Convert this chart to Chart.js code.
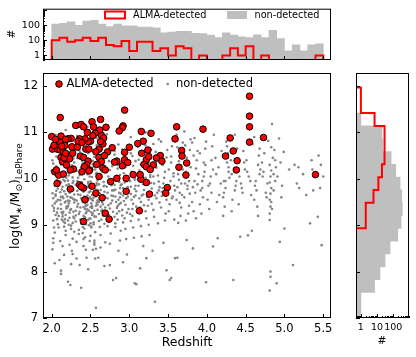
<!DOCTYPE html>
<html>
<head>
<meta charset="utf-8">
<script src="https://cdn.jsdelivr.net/npm/chart.js@4.4.0/dist/chart.umd.min.js"></script>
<style>
  html, body { margin: 0; padding: 0; background: #fff; }
  #wrap { position: relative; width: 416px; height: 357px; }
  #wrap canvas { position: absolute; left: 0; top: 0; }
</style>
</head>
<body>
<div id="wrap">
  <canvas id="topHist" width="416" height="357"></canvas>
  <canvas id="mainScatter" width="416" height="357"></canvas>
  <canvas id="rightHist" width="416" height="357"></canvas>
</div>
<script>
// ---- data ----
const zTicks = [2.0, 2.5, 3.0, 3.5, 4.0, 4.5, 5.0, 5.5];
const massTicks = [7, 8, 9, 10, 11, 12];
const countTicks = [1, 10, 100];

// redshift histogram (top panel), bins of 0.1
const zBinEdges = [2.0, 2.1, 2.2, 2.3, 2.4, 2.5, 2.6, 2.7, 2.8, 2.9, 3.0, 3.1, 3.2, 3.3, 3.4, 3.5, 3.6, 3.7,
    3.8, 3.9, 4.0, 4.1, 4.2, 4.3, 4.4, 4.5, 4.6, 4.7, 4.8, 4.9, 5.0, 5.1, 5.2, 5.3, 5.4, 5.5];
const zCountsNonDet = [120, 135, 170, 100, 190, 210, 120, 82, 120, 90, 90, 75, 75, 68, 32, 35, 40, 40,
    29, 28, 22, 15, 31, 22, 17, 15, 23, 15, 46, 13, 2, 5, 2, 5, 6];
const zCountsAlma = [10, 15, 8, 10, 15, 9, 15, 5, 4, 9, 2, 8, 8, 2, 3, 1, 4, 3,
    0, 1, 0, 0, 1, 3, 1, 4, 0, 1, 0, 0, 0, 0, 0, 0, 1];

// stellar mass histogram (right panel)
const massBinEdges = [7.000, 7.276, 7.552, 7.828, 8.104, 8.380, 8.656, 8.932, 9.208, 9.484,
    9.760, 10.036, 10.312, 10.588, 10.864, 11.140, 11.416, 11.692, 11.968];
const massCountsNonDet = [1, 1, 7, 15, 31, 63, 188, 300, 362, 333, 263, 142, 73, 22, 20, 1, 0, 0];
const massCountsAlma = [0, 0, 0, 0, 0, 0, 0, 2, 2, 6, 12, 20, 28, 28, 30, 7, 1, 1];

// ALMA-detected sources
const almaZ = [
    2.11, 2.94, 2.31, 2.38, 2.41, 2.52, 2.54, 2.63, 2.70, 2.92, 2.91, 2.87, 3.61, 3.95, 4.55, 4.55, 4.55, 4.55, 4.30, 4.73,
    4.34, 4.24, 4.39, 4.38, 5.40, 3.59, 3.675, 3.68, 3.74, 3.73, 3.28, 3.155, 3.18, 3.11, 3.00, 2.94, 2.84, 2.81, 2.94, 2.91,
    2.78, 2.72, 2.64, 2.62, 2.66, 2.61, 2.57, 2.61, 2.64, 2.66, 2.58, 2.56, 2.53, 2.50, 2.47, 2.43, 2.36, 2.34, 2.39, 2.44,
    2.48, 2.37, 2.41, 2.47, 2.45, 2.49, 2.42, 2.39, 2.28, 2.23, 2.26, 2.25, 2.21, 2.13, 2.08, 2.00, 2.01, 2.07, 2.11, 2.15,
    2.11, 2.12, 2.14, 2.04, 2.09, 2.06, 3.05, 3.15, 3.22, 3.25, 3.19, 3.22, 3.31, 3.40, 3.42, 2.84, 2.96, 2.61, 2.24, 2.48,
    2.69, 2.07, 2.24, 2.36, 2.41, 2.38, 2.52, 2.43, 2.57, 2.65, 2.76, 2.96, 3.14, 3.22, 3.26, 3.49, 3.47, 3.13, 2.69, 2.74,
    2.41, 2.12, 2.17, 2.18, 2.16, 2.19, 2.13, 2.18, 2.15, 2.03, 2.05, 2.27, 2.33, 2.46, 2.67, 2.63, 2.68, 2.98, 3.16, 3.27,
    3.24, 3.35, 3.64
];
const almaMass = [
    11.32, 11.48, 11.15, 11.17, 11.12, 11.23, 11.12, 11.28, 11.11, 11.14, 11.10, 11.03, 11.12, 11.07, 11.78, 11.35, 11.12, 10.79, 10.88, 10.89,
    10.60, 10.49, 10.39, 10.19, 10.09, 10.86, 10.61, 10.49, 10.34, 10.08, 10.98, 11.02, 10.81, 10.76, 10.68, 10.57, 10.38, 10.36, 10.41, 10.28,
    10.67, 10.58, 10.94, 11.05, 10.75, 10.64, 10.58, 10.46, 10.37, 10.23, 10.31, 10.98, 10.93, 10.81, 10.80, 10.86, 10.86, 10.81, 10.78, 10.64,
    10.64, 10.49, 10.46, 10.38, 10.30, 10.19, 10.26, 10.15, 10.21, 10.43, 10.69, 10.87, 10.86, 10.87, 10.81, 10.91, 10.64, 10.64, 10.62, 10.58,
    10.78, 10.46, 10.37, 10.15, 10.08, 10.19, 10.09, 9.99, 10.41, 10.48, 10.31, 10.26, 10.30, 10.50, 10.38, 10.01, 10.01, 10.05, 10.19, 10.17,
    10.19, 9.90, 9.78, 9.87, 9.80, 9.83, 9.84, 9.55, 9.69, 9.59, 9.94, 9.73, 10.09, 9.92, 9.67, 9.81, 9.69, 9.31, 9.26, 9.13,
    9.08, 10.92, 10.72, 10.85, 10.45, 10.30, 10.70, 10.55, 10.10, 10.72, 10.85, 10.55, 10.68, 11.00, 10.88, 10.80, 10.50, 10.35, 10.55, 10.20,
    10.62, 10.45, 10.25
];

// non-detected sources [redshift, log mass] (a readable subset of the cloud)
const nonDetected = [
    [2.01,9.42],[2.04,9.85],[2.02,9.10],[2.07,10.05],[2.05,9.63],[2.09,8.95],[2.03,9.31],[2.06,10.27],[2.08,9.55],[2.02,8.72],
    [2.06,9.74],[2.01,10.40],[2.09,9.20],[2.04,8.84],[2.07,9.98],[2.03,9.37],[2.05,9.66],[2.08,9.02],[2.00,10.18],[2.06,10.61],
    [2.01,8.48],[2.09,9.88],[2.04,9.47],[2.02,10.33],[2.04,8.18],[2.07,9.13],[2.05,10.95],
    [2.13,9.28],[2.11,9.71],[2.16,8.97],[2.19,10.02],[2.12,9.45],[2.17,9.13],[2.14,9.83],[2.18,10.24],[2.15,9.58],[2.11,8.66],
    [2.16,10.45],[2.19,9.36],[2.12,9.92],[2.18,8.88],[2.14,9.62],[2.11,10.11],[2.17,9.05],[2.13,9.77],[2.15,10.58],[2.18,9.51],
    [2.12,10.31],[2.16,8.36],[2.14,9.19],[2.12,8.02],[2.19,9.40],[2.13,10.70],[2.17,9.95],[2.15,9.29],[2.11,9.54],[2.18,8.79],[2.18,11.05],
    [2.24,9.33],[2.21,9.78],[2.27,9.05],[2.22,10.12],[2.28,9.56],[2.25,8.92],[2.21,9.41],[2.29,10.35],[2.23,9.70],[2.26,10.52],
    [2.28,9.18],[2.22,9.88],[2.27,8.71],[2.24,10.21],[2.29,9.49],[2.21,9.96],[2.25,8.99],[2.23,9.27],[2.21,7.78],[2.24,7.71],
    [2.25,8.16],[2.27,10.03],[2.20,9.62],[2.28,10.44],[2.23,8.58],[2.26,9.83],[2.22,10.07],[2.29,9.15],[2.26,8.45],[2.20,9.38],
    [2.27,9.74],[2.23,9.52],[2.28,9.95],[2.25,10.68],[2.22,9.01],[2.26,10.29],[2.29,8.86],
    [2.34,9.46],[2.31,9.87],[2.37,9.12],[2.32,10.17],[2.38,9.58],[2.35,8.90],[2.31,9.31],[2.39,10.39],[2.33,9.74],[2.36,10.60],
    [2.38,9.03],[2.32,8.64],[2.37,9.65],[2.34,10.02],[2.36,8.14],[2.39,9.92],[2.31,9.21],[2.35,8.81],[2.30,9.55],[2.38,10.25],
    [2.33,9.40],[2.36,10.08],[2.33,10.92],
    [2.43,9.35],[2.47,9.82],[2.41,9.06],[2.45,10.14],[2.49,9.60],[2.42,8.93],[2.46,9.44],[2.40,10.33],[2.48,9.71],[2.44,10.49],
    [2.41,9.20],[2.47,9.90],[2.43,8.74],[2.49,10.22],[2.45,9.51],[2.42,9.99],[2.48,9.00],[2.44,9.26],[2.46,9.64],[2.41,8.55],
    [2.49,10.05],[2.43,9.47],[2.47,9.12],[2.40,8.83],[2.45,10.41],[2.42,9.78],[2.48,9.58],[2.44,8.47],[2.46,10.28],[2.41,9.39],
    [2.49,9.85],[2.43,9.17],[2.47,9.93],[2.45,8.30],[2.42,10.62],[2.48,9.31],[2.40,8.96],[2.46,10.10],[2.44,9.02],[2.41,9.56],
    [2.47,10.75],[2.49,8.66],[2.46,11.12],
    [2.52,9.37],[2.56,9.79],[2.50,9.04],[2.58,10.13],[2.54,9.59],[2.51,8.95],[2.57,9.42],[2.53,10.31],[2.59,9.68],[2.55,10.47],
    [2.52,9.22],[2.58,9.91],[2.50,8.77],[2.56,10.20],[2.53,9.53],[2.59,9.97],[2.54,9.02],[2.51,9.28],[2.57,9.62],[2.55,8.58],
    [2.52,10.04],[2.58,9.48],[2.50,9.14],[2.56,8.85],[2.53,10.39],[2.59,9.76],[2.51,9.57],[2.57,8.49],[2.54,10.26],[2.52,9.41],
    [2.58,9.86],[2.55,9.19],[2.50,9.94],[2.56,8.28],[2.53,10.60],[2.59,9.33],[2.51,8.97],[2.57,10.11],[2.54,9.06],[2.52,9.55],
    [2.58,10.72],[2.55,8.67],[2.57,7.22],[2.53,8.47],[2.50,9.73],[2.59,9.44],[2.58,10.88],
    [2.63,9.40],[2.67,9.84],[2.61,9.09],[2.65,10.16],[2.69,9.61],[2.62,8.96],[2.66,9.45],[2.60,10.36],[2.68,9.72],[2.64,10.52],
    [2.61,9.24],[2.67,9.93],[2.63,8.79],[2.69,10.24],[2.65,9.50],[2.62,10.00],[2.68,9.03],[2.64,9.30],[2.60,8.30],[2.66,9.65],
    [2.63,10.08],[2.69,8.63],[2.61,9.88],[2.67,9.20],[2.65,10.63],[2.62,9.56],
    [2.73,9.43],[2.77,9.86],[2.71,9.11],[2.75,10.19],[2.79,9.63],[2.72,8.98],[2.76,9.47],[2.74,10.38],[2.78,9.75],[2.71,10.55],
    [2.77,9.92],[2.75,8.14],[2.73,10.05],[2.79,9.29],[2.76,8.82],[2.72,9.58],[2.78,10.27],[2.79,7.82],[2.71,10.96],
    [2.83,9.50],[2.87,9.93],[2.81,9.18],[2.85,10.22],[2.89,9.68],[2.82,9.04],[2.86,9.55],[2.84,10.43],[2.88,9.80],[2.81,10.60],
    [2.87,9.30],[2.83,9.97],[2.89,8.88],[2.85,10.30],[2.82,9.62],[2.88,10.08],[2.86,8.45],[2.84,9.37],[2.80,9.75],[2.83,7.86],
    [2.87,9.45],[2.81,10.52],[2.85,9.12],[2.89,9.86],[2.82,8.96],[2.86,10.74],[2.89,11.08],
    [2.93,9.52],[2.97,9.95],[2.91,9.21],[2.95,10.25],[2.99,9.70],[2.92,9.06],[2.96,9.58],[2.94,10.46],[2.98,9.82],[2.91,10.63],
    [2.97,9.99],[2.95,8.92],[2.93,10.12],[2.99,9.35],[2.96,8.70],[2.92,9.64],[2.98,10.35],[2.94,9.15],[2.90,9.88],[2.97,8.37],
    [3.03,9.55],[3.07,9.98],[3.01,9.24],[3.05,10.28],[3.09,9.73],[3.02,9.09],[3.06,9.61],[3.04,10.49],[3.08,9.85],[3.01,10.66],
    [3.07,10.02],[3.05,8.95],[3.03,10.15],[3.09,9.40],[3.06,8.73],[3.02,9.67],[3.08,10.38],[3.07,7.75],[3.09,7.73],[3.04,9.20],[3.02,10.90],
    [3.13,9.58],[3.17,10.01],[3.11,9.27],[3.15,10.31],[3.19,9.76],[3.12,9.12],[3.16,9.64],[3.14,10.52],[3.18,9.88],[3.11,10.69],
    [3.17,10.05],[3.14,8.07],[3.15,8.98],[3.13,10.18],[3.19,9.43],[3.16,8.76],[3.12,10.41],
    [3.23,9.61],[3.27,10.04],[3.21,9.30],[3.25,10.34],[3.29,9.79],[3.22,9.15],[3.26,9.67],[3.24,10.55],[3.28,9.91],[3.21,10.72],
    [3.22,8.29],[3.27,10.08],[3.25,9.01],[3.23,10.21],[3.29,9.46],[3.26,8.79],[3.28,10.44],[3.21,11.00],
    [3.33,9.64],[3.37,10.07],[3.31,9.33],[3.35,10.37],[3.39,9.82],[3.32,9.18],[3.36,9.70],[3.34,10.58],[3.38,9.94],[3.30,8.45],
    [3.33,7.35],[3.31,10.75],[3.37,9.04],[3.35,10.24],[3.39,9.49],[3.38,10.85],
    // extra points filling the dense core at z < 3.4
    [2.02,9.58],[2.05,9.22],[2.08,9.79],[2.03,8.95],[2.06,9.51],[2.09,10.08],[2.01,9.69],[2.07,9.27],[2.04,10.15],[2.08,9.36],
    [2.12,9.61],[2.15,9.08],[2.18,9.67],[2.11,9.94],[2.14,9.25],[2.17,9.49],[2.19,9.86],[2.13,9.12],[2.16,9.73],[2.12,9.35],
    [2.15,9.98],[2.18,9.22],[2.22,9.47],[2.25,9.83],[2.28,9.29],[2.21,9.10],[2.24,9.60],[2.27,9.91],[2.29,9.66],[2.23,9.16],
    [2.26,9.59],[2.21,9.53],[2.25,9.35],[2.28,9.77],[2.32,9.53],[2.35,9.24],[2.38,9.79],[2.31,9.08],[2.34,9.66],[2.37,9.38],
    [2.39,9.55],[2.33,9.95],[2.36,9.29],[2.42,9.62],[2.45,9.29],[2.48,9.86],[2.41,9.72],[2.44,9.41],[2.47,9.55],[2.49,9.15],
    [2.43,9.83],[2.46,9.34],[2.40,9.50],[2.52,9.65],[2.55,9.31],[2.58,9.72],[2.51,9.47],[2.54,9.84],[2.57,9.18],[2.59,9.53],
    [2.53,9.25],[2.56,9.64],[2.50,9.39],[2.62,9.68],[2.65,9.33],[2.68,9.85],[2.61,9.50],[2.64,9.12],[2.67,9.59],[2.69,9.38],
    [2.63,9.76],[2.66,9.21],[2.72,9.70],[2.75,9.36],[2.78,9.53],[2.71,9.83],[2.74,9.22],[2.77,9.64],[2.79,9.99],[2.82,9.77],
    [2.85,9.41],[2.88,9.60],[2.81,9.87],[2.84,9.25],[2.87,9.70],[2.89,9.48],[2.92,9.80],[2.95,9.44],[2.98,9.62],[2.91,9.33],
    [2.94,9.92],[2.97,9.27],[3.02,9.83],[3.05,9.46],[3.08,9.64],[3.01,9.95],[3.04,9.35],[3.07,9.78],[3.12,9.85],[3.15,9.50],
    [3.18,9.66],[3.11,9.98],[3.14,9.38],[3.22,9.88],[3.25,9.55],[3.28,9.70],[3.21,10.02],[3.24,9.42],[3.32,9.90],[3.35,9.58],
    [3.38,9.75],[3.31,10.05],[2.02,8.62],[2.14,8.55],[2.27,8.38],[2.41,8.70],[2.55,8.62],[2.63,8.52],[2.75,8.60],[2.88,8.67],
    [2.06,10.48],[2.19,10.52],[2.33,10.45],[2.47,10.55],[2.60,10.42],[2.74,10.62],[3.02,10.55],[3.17,10.60],[3.28,10.63],
    [2.10,8.25],[2.32,8.28],[2.47,8.05],[2.68,8.12],[2.92,8.20],[3.18,8.55],[2.12,7.95],[2.38,7.65],
    // sparser cloud at z > 3.4
    [3.42,9.72],[3.46,10.15],[3.41,9.38],[3.48,10.46],[3.44,9.90],[3.47,9.25],[3.43,9.80],[3.49,10.62],[3.45,10.02],[3.41,10.80],
    [3.46,9.10],[3.43,10.30],[3.48,9.55],[3.48,8.03],[3.42,9.63],[3.44,8.62],
    [3.53,9.95],[3.51,10.20],[3.56,9.62],[3.54,10.48],[3.58,9.85],[3.52,9.45],[3.57,10.05],[3.55,10.70],[3.59,9.75],[3.51,9.30],
    [3.52,7.82],[3.56,10.88],[3.54,10.35],[3.58,9.12],[3.55,9.58],[3.57,10.12],[3.59,8.29],[3.54,7.86],
    [3.62,9.82],[3.66,10.25],[3.61,9.55],[3.68,10.55],[3.64,9.98],[3.67,9.38],[3.63,10.10],[3.69,10.78],[3.65,9.70],[3.61,10.95],
    [3.66,9.20],[3.64,10.38],[3.68,9.65],[3.62,10.68],[3.67,9.90],[3.63,9.05],[3.69,10.20],[3.65,9.48],[3.62,8.30],[3.66,10.45],
    [3.72,9.90],[3.76,10.30],[3.71,9.60],[3.78,10.62],[3.74,10.05],[3.77,9.42],[3.73,10.15],[3.79,10.85],[3.75,9.78],[3.71,11.02],
    [3.76,9.25],[3.74,10.45],[3.74,8.68],[3.78,9.68],[3.72,10.72],[3.77,9.95],[3.73,9.10],[3.79,10.25],[3.75,9.85],[3.76,10.38],
    [3.82,9.82],[3.82,8.50],[3.86,10.22],[3.81,9.50],[3.88,10.60],[3.84,9.95],[3.87,10.40],[3.83,9.30],[3.89,10.10],[3.81,10.78],
    [3.85,9.70],[3.86,9.15],[3.84,10.88],[3.88,9.88],[3.83,10.50],
    [3.92,9.75],[3.96,10.35],[3.91,9.45],[3.98,10.65],[3.94,9.95],[3.97,10.15],[3.93,9.25],[3.99,10.80],[3.95,9.60],[3.91,10.55],
    [3.96,10.05],[3.94,9.80],[3.98,10.30],[3.99,7.77],
    [4.02,9.85],[4.06,10.40],[4.01,9.55],[4.08,10.20],[4.04,9.90],[4.07,10.70],[4.03,9.35],[4.08,8.54],[4.05,10.05],[4.09,10.95],[4.06,9.70],
    [4.12,10.10],[4.16,9.65],[4.11,10.45],[4.14,8.72],[4.18,9.90],[4.15,10.25],[4.13,9.50],[4.19,10.60],
    [4.22,9.95],[4.26,10.35],[4.21,9.60],[4.28,10.15],[4.24,9.80],[4.27,10.55],[4.23,9.40],[4.29,10.02],[4.25,10.80],[4.21,9.20],
    [4.26,10.70],[4.24,9.95],[4.28,10.25],[4.22,9.70],[4.27,10.45],
    [4.32,10.10],[4.36,9.75],[4.31,10.40],[4.34,7.82],[4.38,9.95],[4.35,10.22],[4.33,9.55],[4.39,10.65],[4.37,9.85],[4.32,9.30],[4.36,10.95],
    [4.42,10.05],[4.46,9.70],[4.43,8.75],[4.48,10.35],[4.44,9.90],[4.47,10.60],[4.41,9.45],[4.49,10.20],[4.45,9.80],
    [4.52,10.15],[4.57,9.65],[4.53,8.78],[4.51,10.40],[4.56,9.95],[4.59,10.75],[4.58,8.88],[4.54,10.05],
    [4.62,9.85],[4.66,10.30],[4.61,9.55],[4.68,10.10],[4.64,9.75],[4.67,10.50],[4.63,9.95],[4.69,10.20],[4.65,9.40],[4.61,10.90],
    [4.66,9.20],[4.68,10.65],
    [4.72,10.05],[4.76,9.70],[4.71,10.35],[4.78,9.90],[4.74,10.55],[4.77,9.60],[4.73,10.15],[4.79,10.82],
    [4.81,9.11],[4.81,9.25],[4.82,9.40],[4.81,9.55],[4.82,9.68],[4.83,9.80],[4.81,9.92],[4.82,10.05],[4.83,10.18],[4.81,10.30],
    [4.84,9.35],[4.82,7.89],[4.82,8.00],[4.81,7.59],[4.85,10.45],[4.86,9.75],[4.87,10.62],[4.88,9.95],[4.89,10.25],[4.84,11.18],
    [4.86,10.10],[4.83,9.50],[4.88,10.40],[4.83,10.68],
    [4.90,7.75],[4.93,10.87],[4.91,10.05],[4.96,9.60],[4.94,8.64],[4.95,10.35],[4.97,9.85],[4.99,10.58],
    [5.00,8.93],[5.06,10.20],
    [5.11,8.14],[5.13,10.30],[5.16,9.90],[5.19,9.80],[5.18,10.25],
    [5.24,10.10],[5.28,9.65],
    [5.33,9.04],[5.35,10.40],[5.37,9.75],[5.38,10.05],[5.36,10.20],
    [5.43,9.18],[5.44,10.50],[5.46,9.80],[5.48,8.57],[5.50,10.05],[5.47,10.30]
];

// ---- styling ----
const FONT = '"DejaVu Sans", sans-serif';
const HIST_GRAY = '#bfbfbf';
const DOT_GRAY = '#858585';
const ALMA_RED = '#ff0000';
const STEP_FLOOR = 0.1;   // below the log axis minimum, so empty bins drop out of view

Chart.defaults.font.family = FONT;
Chart.defaults.color = '#000';

function fixedSize(px) {
    return function(scale) {
        if (scale.isHorizontal()) {
            scale.height = px;
        } else {
            scale.width = px;
        }
    };
}

function useTicks(values) {
    return function(scale) {
        scale.ticks = values.map(v => ({ value: v }));
    };
}

function binCenters(edges) {
    return edges.slice(0, -1).map((e, i) => (e + edges[i + 1]) / 2);
}

// outline of a step histogram as a list of corner points
function stepOutline(edges, counts) {
    const pts = [{ edge: edges[0], count: STEP_FLOOR }];
    counts.forEach((c, i) => {
        const v = c > 0 ? c : STEP_FLOOR;
        pts.push({ edge: edges[i], count: v });
        pts.push({ edge: edges[i + 1], count: v });
    });
    pts.push({ edge: edges[edges.length - 1], count: STEP_FLOOR });
    return pts;
}

function logMinorTicks(decades) {
    const out = [];
    decades.forEach(d => {
        for (let m = 2; m <= 9; m++) out.push(d * m);
    });
    return out;
}

function drawFrame(chart) {
    const a = chart.chartArea;
    const ctx = chart.ctx;
    ctx.save();
    ctx.strokeStyle = '#000';
    ctx.lineWidth = 1;
    ctx.strokeRect(a.left + 0.5, a.top + 0.5, a.right - a.left - 1, a.bottom - a.top - 1);
    ctx.restore();
}

// matplotlib style ticks pointing into the plot
function drawInnerTicks(chart, axisId, values, len) {
    const scale = chart.scales[axisId];
    const a = chart.chartArea;
    const ctx = chart.ctx;
    ctx.save();
    ctx.strokeStyle = '#000';
    ctx.lineWidth = 1;
    ctx.beginPath();
    values.forEach(v => {
        if (v < scale.min || v > scale.max) return;
        const p = Math.round(scale.getPixelForValue(v)) + 0.5;
        if (scale.isHorizontal()) {
            ctx.moveTo(p, a.bottom);
            ctx.lineTo(p, a.bottom - len);
        } else {
            ctx.moveTo(a.left, p);
            ctx.lineTo(a.left + len, p);
        }
    });
    ctx.stroke();
    ctx.restore();
}

function drawText(ctx, text, x, y, size, align, rotate) {
    ctx.save();
    ctx.translate(x, y);
    if (rotate) ctx.rotate(-Math.PI / 2);
    ctx.font = size + 'px ' + FONT;
    ctx.fillStyle = '#000';
    ctx.textAlign = align || 'center';
    ctx.textBaseline = 'middle';
    ctx.fillText(text, 0, 0);
    ctx.restore();
}

// log(M*/M_sun)_LePhare with sub scripts, written bottom to top
function drawMassLabel(ctx, baseX, centerY) {
    const big = '12.5px ' + FONT;
    const small = '9px ' + FONT;
    const parts = [
        ['log(M', big, 0], ['\u2217', small, 3], ['/M', big, 0],
        ['\u2299', small, 3], [')', big, 0], ['LePhare', small, 3.5]
    ];
    ctx.save();
    let total = 0;
    parts.forEach(p => { ctx.font = p[1]; p.push(ctx.measureText(p[0]).width); total += p[3]; });
    ctx.translate(baseX, centerY);
    ctx.rotate(-Math.PI / 2);
    ctx.fillStyle = '#000';
    ctx.textBaseline = 'alphabetic';
    ctx.textAlign = 'left';
    let x = -total / 2;
    parts.forEach(p => {
        ctx.font = p[1];
        ctx.fillText(p[0], x, p[2]);
        x += p[3];
    });
    ctx.restore();
}

const baseOptions = {
    responsive: false,
    devicePixelRatio: 1,
    animation: false,
    events: [],
    plugins: { legend: { display: false }, tooltip: { enabled: false } }
};

// ---- main scatter ----
function initializeMainChart() {
    const ctx = document.getElementById('mainScatter').getContext('2d');
    return new Chart(ctx, {
        type: 'scatter',
        data: {
            datasets: [
                {
                    label: 'ALMA-detected',
                    data: almaZ.map((z, i) => ({ x: z, y: almaMass[i] })),
                    pointRadius: 3.3,
                    backgroundColor: ALMA_RED,
                    borderColor: '#000',
                    borderWidth: 1
                },
                {
                    label: 'non-detected',
                    data: nonDetected.map(p => ({ x: p[0], y: p[1] })),
                    pointRadius: 1.3,
                    backgroundColor: DOT_GRAY,
                    borderWidth: 0
                }
            ]
        },
        options: {
            ...baseOptions,
            layout: { padding: { top: 73, right: 85, bottom: 0, left: 0 } },
            scales: {
                x: {
                    type: 'linear', min: 1.888, max: 5.6, bounds: 'data',
                    grid: { display: false, drawTicks: false },
                    border: { display: false },
                    ticks: { autoSkip: false, maxRotation: 0, padding: 4, font: { size: 11.5 },
                        callback: v => v.toFixed(1) },
                    afterBuildTicks: useTicks(zTicks),
                    afterFit: fixedSize(39)
                },
                y: {
                    type: 'linear', min: 7, max: 12.28, bounds: 'data',
                    grid: { display: false, drawTicks: false },
                    border: { display: false },
                    ticks: { autoSkip: false, padding: 5, font: { size: 11.5 },
                        callback: v => String(v) },
                    afterBuildTicks: useTicks(massTicks),
                    afterFit: fixedSize(43)
                }
            }
        },
        plugins: [{
            id: 'mainDecor',
            afterDraw(chart) {
                const c = chart.ctx;
                drawFrame(chart);
                drawInnerTicks(chart, 'x', zTicks, 4);
                drawInnerTicks(chart, 'y', massTicks, 4);

                // legend inside the plot
                c.save();
                c.beginPath();
                c.arc(59, 84, 3.3, 0, Math.PI * 2);
                c.fillStyle = ALMA_RED;
                c.fill();
                c.lineWidth = 1;
                c.strokeStyle = '#000';
                c.stroke();
                c.beginPath();
                c.arc(167.7, 84, 1.3, 0, Math.PI * 2);
                c.fillStyle = DOT_GRAY;
                c.fill();
                c.restore();
                drawText(c, 'ALMA-detected', 66.5, 84, 11.5, 'left');
                drawText(c, 'non-detected', 176, 84, 11.5, 'left');

                drawText(c, 'Redshift', 187, 343, 12.5, 'center');
                drawMassLabel(c, 18.5, 196);
            }
        }]
    });
}

// ---- top histogram (redshift) ----
function initializeTopHist() {
    const ctx = document.getElementById('topHist').getContext('2d');
    const centers = binCenters(zBinEdges);
    const bars = [];
    centers.forEach((c, i) => {
        if (zCountsNonDet[i] > 0) bars.push({ x: c, y: zCountsNonDet[i] });
    });
    const step = stepOutline(zBinEdges, zCountsAlma).map(p => ({ x: p.edge, y: p.count }));

    return new Chart(ctx, {
        type: 'bar',
        data: {
            datasets: [
                { type: 'line', data: step, borderColor: ALMA_RED, borderWidth: 2,
                  pointRadius: 0, fill: false, tension: 0, clip: 0 },
                { type: 'bar', data: bars, backgroundColor: HIST_GRAY, borderWidth: 0,
                  barPercentage: 1, categoryPercentage: 1 }
            ]
        },
        options: {
            ...baseOptions,
            layout: { padding: { top: 7, right: 85, bottom: 297, left: 0 } },
            scales: {
                x: { type: 'linear', display: false, min: 1.888, max: 5.6, bounds: 'data',
                     offset: false, grid: { offset: false } },
                y: {
                    type: 'logarithmic', min: 0.5, max: 1250, bounds: 'data',
                    grid: { display: false, drawTicks: false },
                    border: { display: false },
                    ticks: { autoSkip: false, padding: 3, font: { size: 9.5 }, callback: v => String(v) },
                    afterBuildTicks: useTicks(countTicks),
                    afterFit: fixedSize(43)
                }
            }
        },
        plugins: [{
            id: 'topDecor',
            afterDraw(chart) {
                const c = chart.ctx;
                drawFrame(chart);
                drawInnerTicks(chart, 'x', zTicks, 4);
                drawInnerTicks(chart, 'y', [1, 10, 100, 1000], 4);
                drawInnerTicks(chart, 'y', logMinorTicks([0.1, 1, 10, 100]), 2);

                c.save();
                c.strokeStyle = ALMA_RED;
                c.lineWidth = 2;
                c.strokeRect(105, 11.5, 20, 7);
                c.fillStyle = HIST_GRAY;
                c.fillRect(227, 11, 20, 8);
                c.restore();
                drawText(c, 'ALMA-detected', 133, 15.5, 9.7, 'left');
                drawText(c, 'non-detected', 254.5, 15.5, 9.7, 'left');
                drawText(c, '#', 12, 34, 10.5, 'center', true);
            }
        }]
    });
}

// ---- right histogram (stellar mass) ----
function initializeRightHist() {
    const ctx = document.getElementById('rightHist').getContext('2d');
    const centers = binCenters(massBinEdges);
    const bars = [];
    centers.forEach((c, i) => {
        if (massCountsNonDet[i] > 0) bars.push({ y: c, x: massCountsNonDet[i] });
    });
    const step = stepOutline(massBinEdges, massCountsAlma).map(p => ({ x: p.count, y: p.edge }));

    return new Chart(ctx, {
        type: 'bar',
        data: {
            datasets: [
                { type: 'line', data: step, borderColor: ALMA_RED, borderWidth: 2,
                  pointRadius: 0, fill: false, tension: 0, clip: 0 },
                { type: 'bar', data: bars, backgroundColor: HIST_GRAY, borderWidth: 0,
                  barPercentage: 1, categoryPercentage: 1 }
            ]
        },
        options: {
            ...baseOptions,
            indexAxis: 'y',
            layout: { padding: { top: 73, right: 7, bottom: 0, left: 356 } },
            scales: {
                y: { type: 'linear', display: false, min: 7, max: 12.28, bounds: 'data',
                     offset: false, grid: { offset: false } },
                x: {
                    type: 'logarithmic', min: 0.5, max: 930, bounds: 'data',
                    grid: { display: false, drawTicks: false },
                    border: { display: false },
                    ticks: { autoSkip: false, maxRotation: 0, padding: 4, font: { size: 9.5 },
                        callback: v => String(v) },
                    afterBuildTicks: useTicks(countTicks),
                    afterFit: fixedSize(39)
                }
            }
        },
        plugins: [{
            id: 'rightDecor',
            afterDraw(chart) {
                drawFrame(chart);
                drawInnerTicks(chart, 'y', massTicks, 4);
                drawInnerTicks(chart, 'x', [1, 10, 100], 4);
                drawInnerTicks(chart, 'x', logMinorTicks([0.1, 1, 10, 100]), 2);
                drawText(chart.ctx, '#', 382, 341, 10.5, 'center');
            }
        }]
    });
}

initializeTopHist();
initializeMainChart();
initializeRightHist();
</script>
</body>
</html>
